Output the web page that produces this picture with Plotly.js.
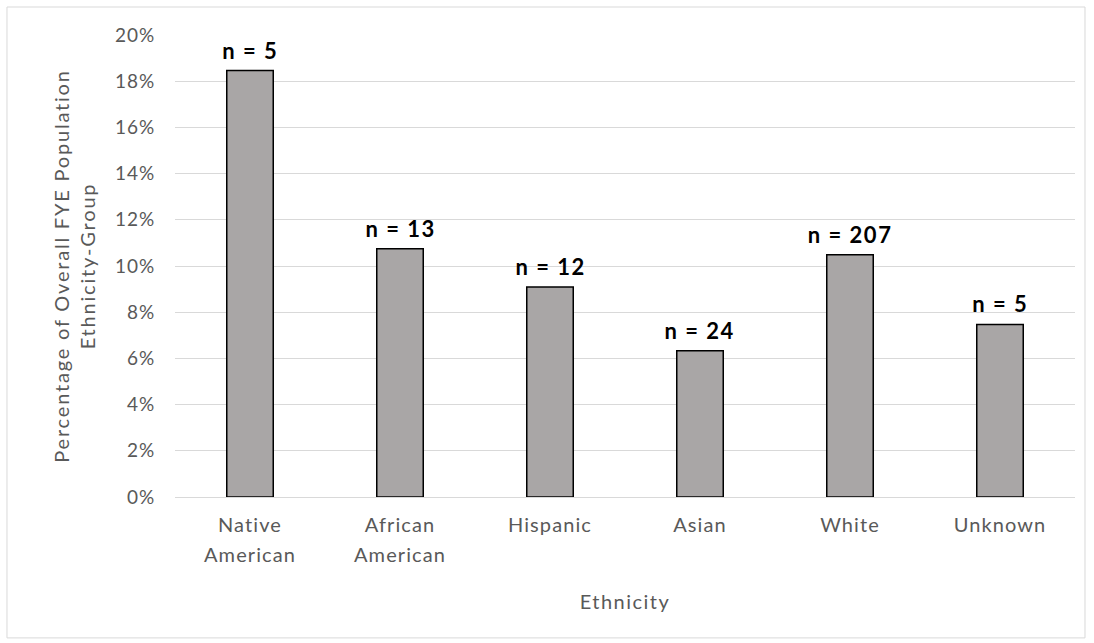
<!DOCTYPE html>
<html>
<head>
<meta charset="utf-8">
<script src="https://cdn.plot.ly/plotly-3.0.1.min.js"></script>
<style>
html,body{margin:0;padding:0;background:#fff;}
#chart{width:1094px;height:643px;}
#chart .xtick text { letter-spacing: 1.1px; }
#chart .ytick text { letter-spacing: 1px; }
#chart .g-ytitle text { letter-spacing: 1.8px; }
#chart .g-xtitle text { letter-spacing: 1.5px; }
#chart .annotation-text { letter-spacing: 1.5px; }
</style>
</head>
<body>
<div id="chart"></div>
<script>
const categories = ["Native<br>American", "African<br>American", "Hispanic", "Asian", "White", "Unknown"];
const percentages = [0.1846, 0.1075, 0.0909, 0.0633, 0.1049, 0.0747];
const countLabels = ["n = 5", "n = 13", "n = 12", "n = 24", "n = 207", "n = 5"];
const yTickVals = [0, 0.02, 0.04, 0.06, 0.08, 0.10, 0.12, 0.14, 0.16, 0.18, 0.20];

const fontFamily = "Lato, 'Open Sans', sans-serif";

const trace = {
  type: "bar",
  x: categories,
  y: percentages,
  marker: {color: "#a9a6a6", line: {color: "#000000", width: 1.5}},
  hoverinfo: "none"
};

const annotations = categories.map((c, i) => ({
  x: c, y: percentages[i], xref: "x", yref: "y",
  text: countLabels[i], showarrow: false,
  yanchor: "bottom", yshift: 5,
  font: {family: fontFamily, size: 22, color: "#000000", weight: "bold"}
}));

const layout = {
  width: 1094,
  height: 643,
  margin: {l: 175, r: 19, t: 35, b: 146, autoexpand: false},
  paper_bgcolor: "#ffffff",
  plot_bgcolor: "#ffffff",
  showlegend: false,
  bargap: 0.69,
  font: {family: fontFamily, color: "#595959"},
  annotations: annotations,
  xaxis: {
    type: "category",
    tickfont: {family: fontFamily, size: 20, color: "#595959"},
    ticks: "outside",
    ticklen: 10,
    tickcolor: "rgba(0,0,0,0)",
    showline: false,
    showgrid: false,
    title: {text: "Ethnicity", font: {family: fontFamily, size: 20, color: "#595959"}, standoff: 33},
    automargin: false
  },
  yaxis: {
    range: [0, 0.2],
    tickvals: yTickVals,
    tickformat: ".0%",
    tickfont: {family: fontFamily, size: 19, color: "#595959"},
    ticks: "outside",
    ticklen: 15,
    tickcolor: "rgba(0,0,0,0)",
    showgrid: true,
    gridcolor: "#d9d9d9",
    gridwidth: 1,
    zeroline: true,
    zerolinecolor: "#d9d9d9",
    zerolinewidth: 1,
    showline: false,
    title: {text: "Percentage of Overall FYE Population<br>Ethnicity-Group", font: {family: fontFamily, size: 20, color: "#595959"}, standoff: 16},
    automargin: false
  },
  shapes: [{
    type: "rect", xref: "paper", yref: "paper",
    x0: -0.1867, x1: 1.0111, y0: -0.305, y1: 1.0606,
    line: {color: "#d9d9d9", width: 1}, fillcolor: "rgba(0,0,0,0)", layer: "below"
  }]
};

Plotly.newPlot("chart", [trace], layout, {displayModeBar: false, staticPlot: true}).then(function (gd) {
  gd.querySelectorAll(".xtick text tspan.line").forEach(function (t) {
    if (t.getAttribute("dy") && t.getAttribute("dy") !== "0em") t.setAttribute("dy", "1.5em");
  });
});
</script>
</body>
</html>
